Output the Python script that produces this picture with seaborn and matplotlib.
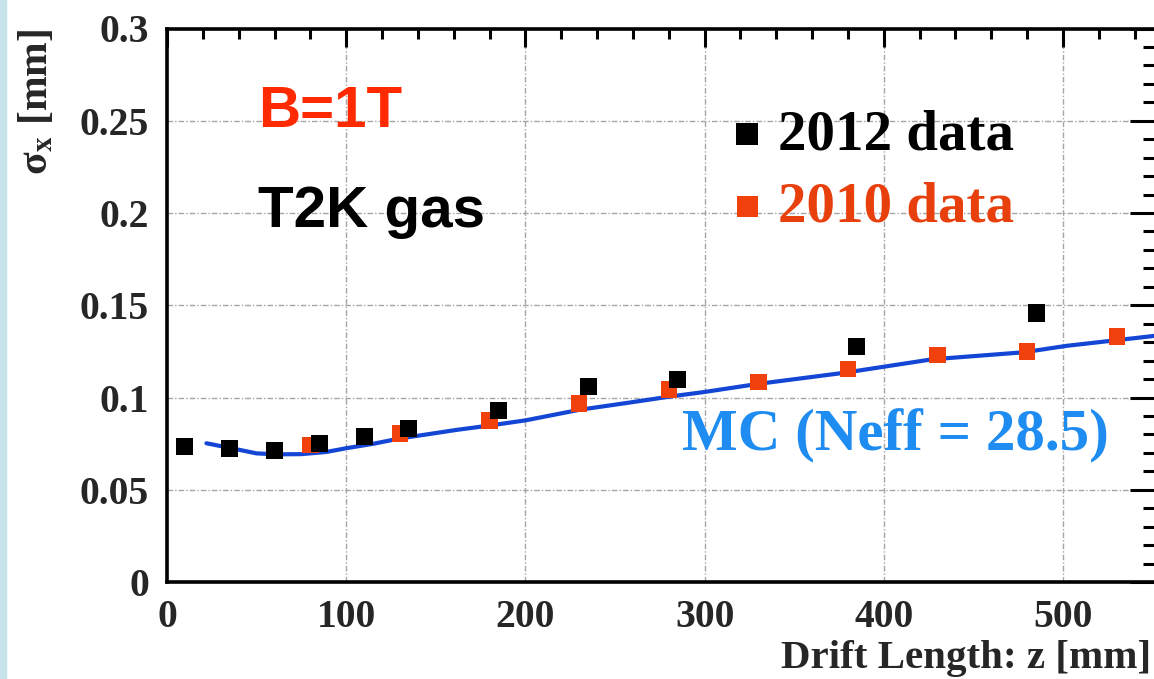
import matplotlib
matplotlib.use("Agg")
import matplotlib.pyplot as plt
from matplotlib.patches import Rectangle
from matplotlib.ticker import MultipleLocator, FixedLocator, FixedFormatter
import seaborn as sns
import pandas as pd

# ---------------- data ----------------
z_2012 = [10, 35, 60, 85, 110, 135, 185, 235, 285, 385, 485]
sigma_2012 = [0.0735, 0.0726, 0.0715, 0.0753, 0.0786, 0.0832, 0.0932, 0.1060, 0.1098, 0.1279, 0.1458]

z_2010 = [80, 130, 180, 230, 280, 330, 380, 430, 480, 530]
sigma_2010 = [0.0742, 0.0805, 0.0876, 0.0968, 0.1043, 0.1084, 0.1154, 0.1230, 0.1250, 0.1330]

z_mc = [22, 35, 50, 62, 75, 89, 100, 115, 130, 145, 162, 180, 200, 230, 257, 282, 300, 330,
        378, 427, 478, 502, 552]
sigma_mc = [0.0752, 0.0727, 0.0697, 0.0692, 0.0693, 0.0705, 0.0725, 0.0749, 0.0778, 0.0800,
            0.0825, 0.0848, 0.0876, 0.0933, 0.0971, 0.1007, 0.1030, 0.1074, 0.1134, 0.1207,
            0.1245, 0.1280, 0.1335]

ytick_values = [0, 0.05, 0.1, 0.15, 0.2, 0.25, 0.3]
ytick_labels = ["0", "0.05", "0.1", "0.15", "0.2", "0.25", "0.3"]
xtick_values = [0, 100, 200, 300, 400, 500]
xtick_labels = ["0", "100", "200", "300", "400", "500"]

label_2012 = "2012 data"
label_2010 = "2010 data"
label_mc = "MC (Neff = 28.5)"

df12 = pd.DataFrame({"z": z_2012, "sigma": sigma_2012})
df10 = pd.DataFrame({"z": z_2010, "sigma": sigma_2010})
dfmc = pd.DataFrame({"z": z_mc, "sigma": sigma_mc})

# ---------------- style ----------------
sns.set_style("white")
plt.rcParams["font.family"] = ["Liberation Serif", "DejaVu Serif"]
plt.rcParams["mathtext.fontset"] = "stix"

W, H = 1154, 679
fig = plt.figure(figsize=(W / 100, H / 100), dpi=100)
fig.patch.set_facecolor("white")
fig.patches.append(Rectangle((0, 0), 6 / W, 1, transform=fig.transFigure,
                             color="#c6e4ea", zorder=-1))

left_px, right_px, top_px, bot_px = 167, 1156, 28.5, 582
ax = fig.add_axes([left_px / W, (H - bot_px) / H, (right_px - left_px) / W, (bot_px - top_px) / H])
ax.set_facecolor("white")

RED = "#f0400c"
BLUE_LINE = "#1446d6"
BLUE_TXT = "#1e8cf0"

sns.lineplot(data=dfmc, x="z", y="sigma", ax=ax, color=BLUE_LINE, lw=3.0,
             estimator=None, sort=True, zorder=3, legend=False)
sns.scatterplot(data=df10, x="z", y="sigma", ax=ax, marker="s", s=140, color=RED,
                edgecolor="none", label=label_2010, zorder=4)
sns.scatterplot(data=df12, x="z", y="sigma", ax=ax, marker="s", s=150, color="black",
                edgecolor="none", label=label_2012, zorder=5)

ax.set_xlim(0, (right_px - left_px) / 1.792)
ax.set_ylim(0, 0.3)

# ticks
ax.xaxis.set_major_locator(FixedLocator(xtick_values))
ax.xaxis.set_major_formatter(FixedFormatter(xtick_labels))
ax.xaxis.set_minor_locator(MultipleLocator(20))
ax.yaxis.set_major_locator(FixedLocator(ytick_values))
ax.yaxis.set_major_formatter(FixedFormatter(ytick_labels))
ax.yaxis.set_minor_locator(MultipleLocator(0.01))

ax.tick_params(axis="both", which="both", direction="in", top=True, right=True,
               color="black", width=2.2)
ax.tick_params(axis="y", which="major", length=18.5, pad=13)
ax.tick_params(axis="y", which="minor", length=9.5)
ax.tick_params(axis="x", which="major", length=13, pad=12)
ax.tick_params(axis="x", which="minor", length=7.5)
for lab in ax.get_xticklabels() + ax.get_yticklabels():
    lab.set_fontsize(28.5)
    lab.set_fontweight("bold")

for sp in ax.spines.values():
    sp.set_linewidth(2.6)
    sp.set_color("black")

ax.grid(True, which="major", color="#a5a5a5", lw=1.0, linestyle=(0, (4, 1.5, 1, 1.5)))
ax.set_axisbelow(True)

# axis labels
ax.set_ylabel(r"σ$_{\mathbf{x}}$ [mm]", fontsize=30, fontweight="bold", loc="top")
ax.yaxis.set_label_coords((56 - left_px) / (right_px - left_px), 1.0)
ax.set_xlabel("Drift Length: z [mm]", fontsize=29.5, fontweight="bold", loc="right")
ax.xaxis.set_label_coords((1151 - left_px) / (right_px - left_px), (bot_px - 640) / (bot_px - top_px))

# annotations
ax.text(50.8, 0.2466, "B=1T", color="#ff2a00", fontsize=42, fontweight="bold",
        family="Liberation Sans", va="baseline", ha="left")
ax.text(50.8, 0.1924, "T2K gas", color="black", fontsize=42, fontweight="bold",
        family="Liberation Sans", va="baseline", ha="left")
ax.text(287.4, 0.0715, label_mc, color=BLUE_TXT, fontsize=42.5, fontweight="bold",
        va="baseline", ha="left")

# legend
handles, labels = ax.get_legend_handles_labels()
order = [labels.index(label_2012), labels.index(label_2010)]
leg = ax.legend([handles[i] for i in order], [labels[i] for i in order],
                loc="upper left", bbox_to_anchor=(736 / W, (H - 109) / H),
                bbox_transform=fig.transFigure, frameon=False,
                prop={"size": 41, "weight": "bold", "family": "Liberation Serif"},
                handlelength=0.4, handletextpad=0.34, borderpad=0, borderaxespad=0,
                labelspacing=0.36, markerscale=1.3)
for t, c in zip(leg.get_texts(), ["black", "#e8400d"]):
    t.set_color(c)

fig.savefig("out.png", dpi=100)
